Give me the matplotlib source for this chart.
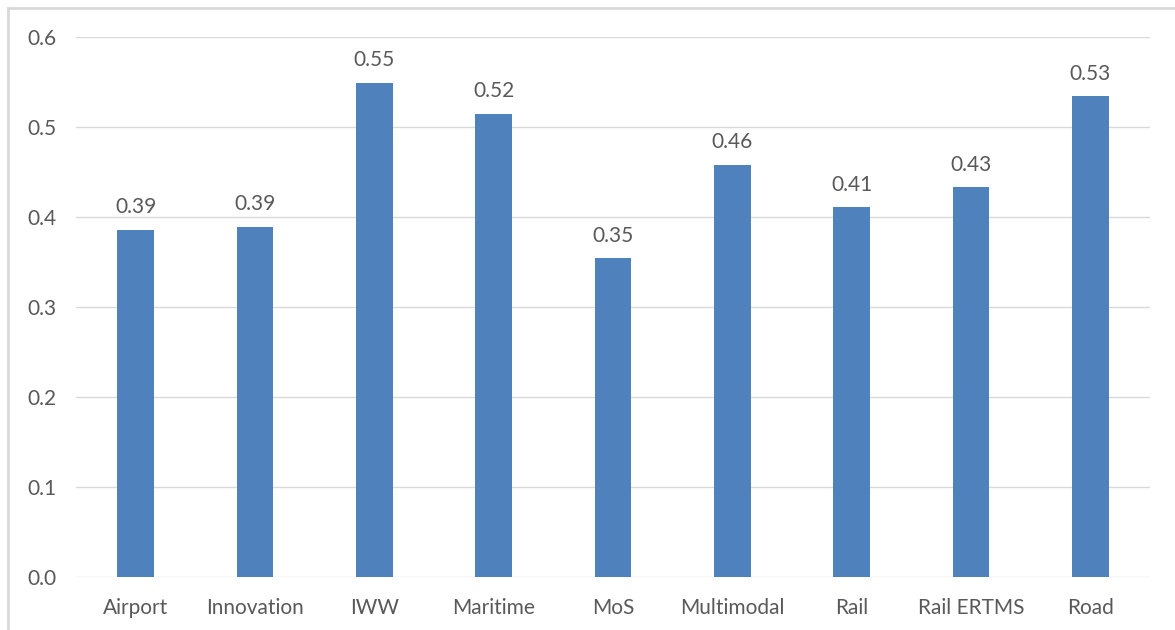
import numpy as np
import matplotlib.pyplot as plt
from matplotlib.lines import Line2D

# values
categories = ["Airport", "Innovation", "IWW", "Maritime", "MoS",
              "Multimodal", "Rail", "Rail ERTMS", "Road"]
values = [0.386, 0.389, 0.549, 0.515, 0.354, 0.458, 0.411, 0.433, 0.534]
yticks = [0.0, 0.1, 0.2, 0.3, 0.4, 0.5, 0.6]

bar_col = "#4F81BD"
txt_col = "#595959"
grid_col = "#D9D9D9"

plt.rcParams['font.family'] = ['Lato', 'DejaVu Sans']

fig = plt.figure(figsize=(11.75, 6.3), dpi=100)
W, H = 1175, 630
ax = fig.add_axes([76 / W, 1 - 577 / H, (1150 - 76) / W, (577 - 37) / H])

x = np.arange(len(categories))
bars = ax.bar(x, values, width=0.31, color=bar_col, zorder=3)

for b, v in zip(bars, values):
    ax.annotate(f"{v:.2f}", (b.get_x() + b.get_width() / 2, v),
                xytext=(0, 9), textcoords="offset points",
                ha="center", va="bottom", fontsize=15, color=txt_col)

ax.set_xlim(-0.5, len(categories) - 0.5)
ax.set_ylim(0, 0.6)
ax.set_yticks(yticks)
ax.set_yticklabels([f"{t:.1f}" for t in yticks])
ax.set_xticks(x)
ax.set_xticklabels(categories)
ax.tick_params(axis="both", length=0, labelsize=15, colors=txt_col)
ax.tick_params(axis="y", pad=14)
ax.tick_params(axis="x", pad=15)
ax.grid(axis="y", color=grid_col, linewidth=1, zorder=0)
for s in ax.spines.values():
    s.set_visible(False)

# light frame on left and top of the chart area
fig.add_artist(Line2D([8 / W, 8 / W], [0, 1 - 8 / H], color="#D9D9D9", lw=2,
                      transform=fig.transFigure))
fig.add_artist(Line2D([8 / W, 1], [1 - 8 / H, 1 - 8 / H], color="#D9D9D9", lw=2,
                      transform=fig.transFigure))

fig.savefig("out.png", dpi=100)
